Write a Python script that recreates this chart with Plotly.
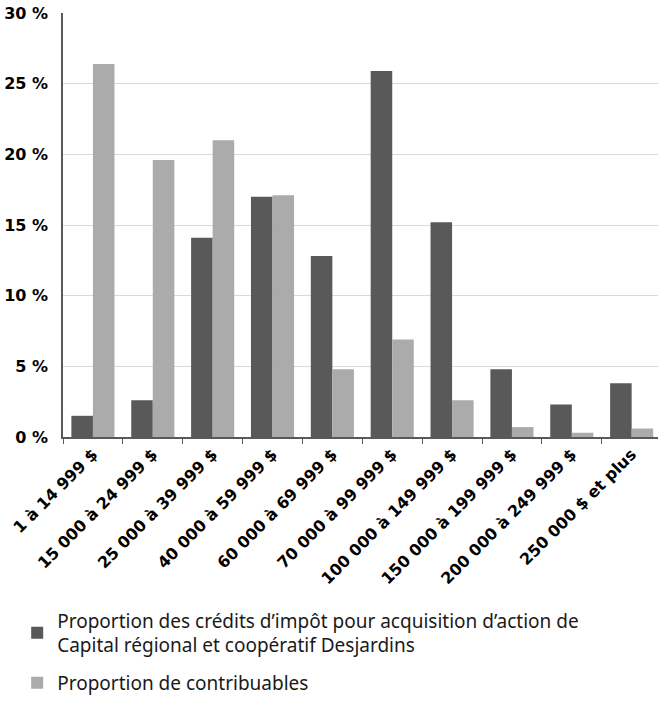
import plotly.graph_objects as go

categories = ["1 à 14 999 $", "15 000 à 24 999 $", "25 000 à 39 999 $", "40 000 à 59 999 $",
              "60 000 à 69 999 $", "70 000 à 99 999 $", "100 000 à 149 999 $",
              "150 000 à 199 999 $", "200 000 à 249 999 $", "250 000 $ et plus"]
credits = [1.5, 2.6, 14.1, 17.0, 12.8, 25.9, 15.2, 4.8, 2.3, 3.8]
contribuables = [26.4, 19.6, 21.0, 17.1, 4.8, 6.9, 2.6, 0.7, 0.3, 0.6]
y_ticks = [0, 5, 10, 15, 20, 25, 30]
name_credits = "Proportion des crédits d’impôt pour acquisition d’action de<br>Capital régional et coopératif Desjardins"
name_contrib = "Proportion de contribuables"

fig = go.Figure()
fig.add_trace(go.Bar(x=categories, y=credits, name=name_credits, legendgroup="a",
                     marker_color="#595959", marker_line_width=0))
fig.add_trace(go.Bar(x=categories, y=contribuables, name=name_contrib, legendgroup="b",
                     marker_color="#ABABAB", marker_line_width=0))

tickfont = dict(family="DejaVu Sans", size=16, color="#000000", weight="bold")
fig.update_layout(
    width=658, height=703,
    margin=dict(l=63, r=0, t=13, b=254),
    paper_bgcolor="white", plot_bgcolor="white",
    barmode="group", bargap=0.28, bargroupgap=0,
    showlegend=True,
    legend=dict(x=-0.077, y=-0.388, xanchor="left", yanchor="top",
                font=dict(family="Noto Sans", size=19, color="#1a1a1a"),
                traceorder="grouped", tracegroupgap=10, bgcolor="rgba(0,0,0,0)"),
    xaxis=dict(type="category", range=[-0.5, 9.44], tickangle=-45, tickfont=tickfont,
               showline=True, linecolor="#595959", linewidth=1.5,
               ticks="outside", tickson="boundaries", ticklen=5, tickcolor="#595959",
               showgrid=False, automargin=False, ticklabeloverflow="allow"),
    yaxis=dict(range=[0, 30], tickvals=y_ticks, ticktext=[f"{v} %" for v in y_ticks],
               tickfont=tickfont, showline=True, linecolor="#595959", linewidth=1.5,
               showgrid=True, gridcolor="#D9D9D9", gridwidth=1, zeroline=False,
               ticks="", ticklabelstandoff=10, automargin=False, ticklabeloverflow="allow"),
)
fig.write_html("out.html", config={"displayModeBar": False},
               post_script="document.body.style.margin='0';")
